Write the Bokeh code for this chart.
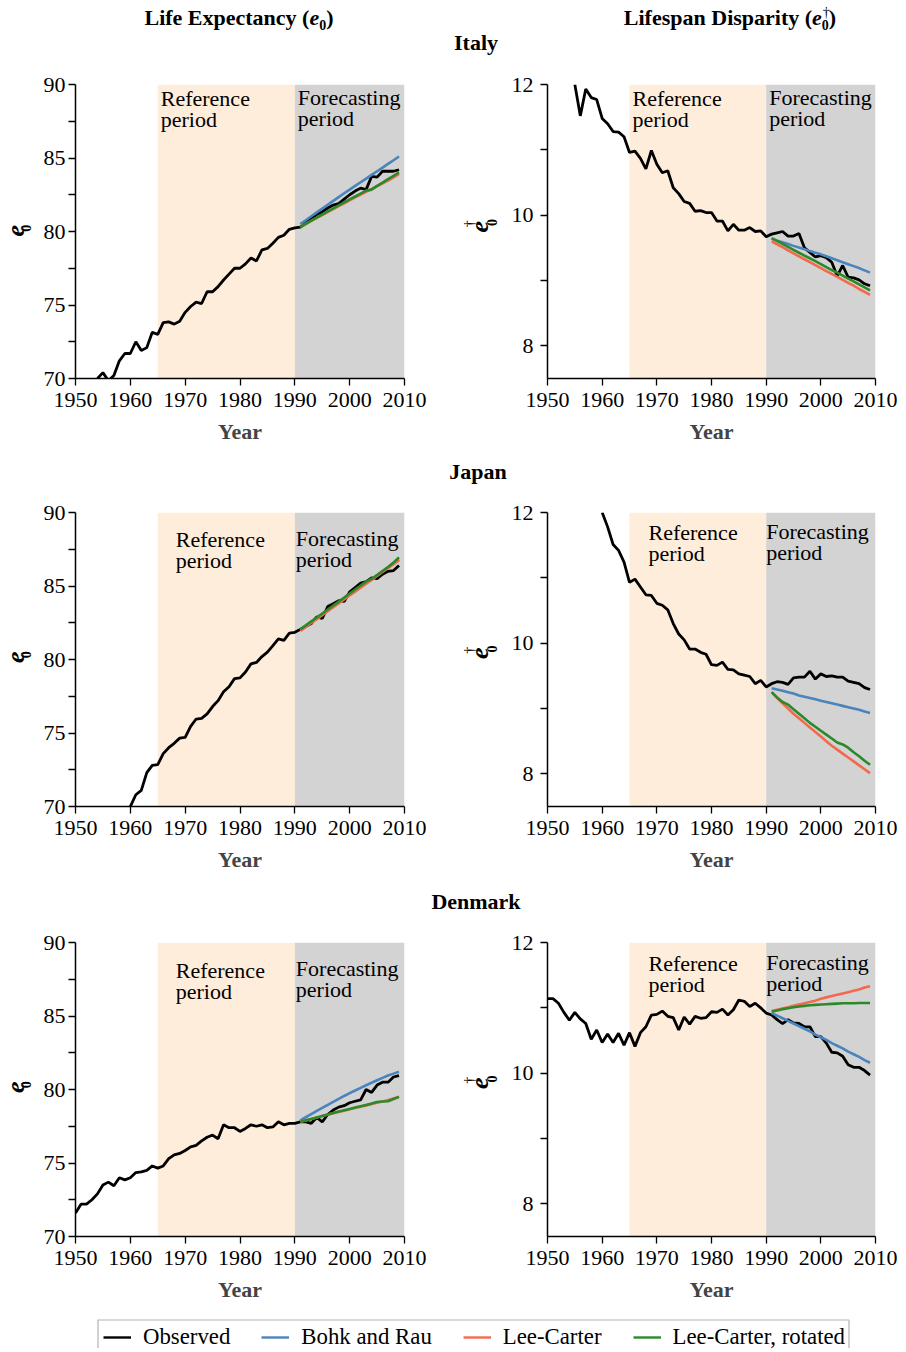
import math
from bokeh.plotting import figure
from bokeh.models import Range1d, FixedTicker, Label, BoxAnnotation, Div, Legend, LegendItem
from bokeh.layouts import column, row
from bokeh.embed import file_html
from bokeh.resources import INLINE

NAN = float("nan")
FONT = "Liberation Serif"

# ---------------- data ----------------
years = list(range(1950, 2010))
fc_years = list(range(1991, 2010))
reference_period = [1965, 1990]
forecast_period = [1990, 2010]
x_ticks = [1950, 1960, 1970, 1980, 1990, 2000, 2010]
e0_ticks = [70, 75, 80, 85, 90]
e0_minor = [72.5, 77.5, 82.5, 87.5]
ed_ticks = [8, 10, 12]
ed_minor = [9, 11]

italy_e0_obs = [NAN, NAN, NAN, NAN, 70.0, 70.4, 69.85, 70.2, 71.2, 71.7,
                71.7, 72.5, 71.9, 72.1, 73.15, 73.0, 73.8, 73.85, 73.7, 73.9,
                74.5, 74.9, 75.2, 75.1, 75.9, 75.9, 76.25, 76.7, 77.1, 77.5,
                77.5, 77.8, 78.2, 78.0, 78.75, 78.85, 79.2, 79.6, 79.75, 80.15,
                80.25, 80.3, 80.6, 80.9, 81.15, 81.35, 81.6, 81.8, 81.9, 82.2,
                82.5, 82.75, 82.95, 82.85, 83.75, 83.7, 84.1, 84.1, 84.1, 84.2]
italy_e0_bohk = [80.50, 80.77, 81.04, 81.30, 81.56, 81.82, 82.08, 82.34, 82.60, 82.85,
                 83.10, 83.35, 83.60, 83.85, 84.10, 84.35, 84.60, 84.85, 85.10]
italy_e0_lc = [80.30, 80.51, 80.72, 80.92, 81.12, 81.32, 81.52, 81.72, 81.92, 82.12,
               82.32, 82.51, 82.70, 82.89, 83.08, 83.27, 83.46, 83.68, 83.90]
italy_e0_lcr = [80.30, 80.52, 80.74, 80.95, 81.16, 81.37, 81.58, 81.78, 81.98, 82.18,
                82.38, 82.58, 82.78, 82.85, 83.10, 83.33, 83.56, 83.79, 84.02]

italy_ed_obs = [NAN, NAN, NAN, NAN, NAN, 12.0, 11.52, 11.93, 11.80, 11.77,
                11.48, 11.40, 11.28, 11.27, 11.20, 10.96, 10.98, 10.87, 10.71, 10.99,
                10.78, 10.65, 10.68, 10.42, 10.33, 10.21, 10.18, 10.06, 10.07, 10.04,
                10.04, 9.91, 9.91, 9.76, 9.86, 9.77, 9.77, 9.81, 9.75, 9.76,
                9.67, 9.71, 9.73, 9.75, 9.68, 9.68, 9.72, 9.50, 9.43, 9.36,
                9.38, 9.35, 9.28, 9.07, 9.23, 9.05, 9.04, 9.01, 8.95, 8.92]
italy_ed_bohk = [9.64, 9.61, 9.585, 9.56, 9.53, 9.505, 9.48, 9.45, 9.425, 9.40,
                 9.37, 9.34, 9.31, 9.28, 9.25, 9.22, 9.19, 9.155, 9.12]
italy_ed_lc = [9.60, 9.555, 9.51, 9.46, 9.415, 9.37, 9.325, 9.28, 9.235, 9.19,
               9.145, 9.10, 9.055, 9.01, 8.965, 8.92, 8.87, 8.825, 8.78]
italy_ed_lcr = [9.65, 9.605, 9.56, 9.515, 9.47, 9.425, 9.38, 9.34, 9.295, 9.25,
                9.205, 9.16, 9.12, 9.075, 9.03, 8.985, 8.94, 8.895, 8.85]

japan_e0_obs = [NAN, NAN, NAN, NAN, NAN, NAN, NAN, NAN, NAN, NAN,
                70.0, 70.8, 71.1, 72.3, 72.8, 72.85, 73.6, 74.0, 74.3, 74.65,
                74.7, 75.45, 75.95, 76.0, 76.3, 76.8, 77.2, 77.8, 78.15, 78.7,
                78.75, 79.15, 79.7, 79.8, 80.2, 80.5, 80.95, 81.4, 81.3, 81.8,
                81.85, 82.05, 82.25, 82.45, 82.9, 82.8, 83.6, 83.8, 84.0, 83.95,
                84.6, 84.9, 85.2, 85.3, 85.55, 85.5, 85.8, 86.0, 86.05, 86.4]
japan_e0_bohk = [82.00, 82.27, 82.53, 82.80, 83.07, 83.33, 83.60, 83.87, 84.13, 84.40,
                 84.67, 84.93, 85.20, 85.47, 85.73, 86.00, 86.27, 86.53, 86.80]
japan_e0_lc = [81.95, 82.22, 82.48, 82.75, 83.02, 83.28, 83.55, 83.82, 84.08, 84.35,
               84.62, 84.88, 85.15, 85.42, 85.68, 85.95, 86.22, 86.48, 86.75]
japan_e0_lcr = [82.05, 82.32, 82.59, 82.86, 83.13, 83.40, 83.67, 83.94, 84.21, 84.49,
                84.76, 85.03, 85.30, 85.48, 85.75, 86.02, 86.29, 86.60, 86.95]

japan_ed_obs = [NAN, NAN, NAN, NAN, NAN, NAN, NAN, NAN, NAN, NAN,
                12.0, 11.78, 11.51, 11.42, 11.24, 10.93, 10.98, 10.86, 10.74, 10.73,
                10.61, 10.58, 10.51, 10.30, 10.14, 10.05, 9.91, 9.91, 9.86, 9.83,
                9.67, 9.66, 9.71, 9.60, 9.59, 9.53, 9.51, 9.49, 9.38, 9.43,
                9.33, 9.38, 9.41, 9.40, 9.37, 9.47, 9.48, 9.48, 9.57, 9.45,
                9.53, 9.49, 9.50, 9.48, 9.48, 9.42, 9.40, 9.38, 9.32, 9.29]
japan_ed_bohk = [9.31, 9.29, 9.27, 9.25, 9.23, 9.20, 9.18, 9.16, 9.14, 9.12,
                 9.10, 9.08, 9.06, 9.04, 9.02, 9.00, 8.98, 8.955, 8.93]
japan_ed_lc = [9.25, 9.16, 9.08, 9.00, 8.92, 8.85, 8.78, 8.71, 8.64, 8.57,
               8.50, 8.43, 8.37, 8.31, 8.25, 8.19, 8.13, 8.07, 8.01]
japan_ed_lcr = [9.25, 9.17, 9.10, 9.06, 8.99, 8.92, 8.85, 8.78, 8.72, 8.66,
                8.60, 8.54, 8.48, 8.45, 8.40, 8.33, 8.27, 8.20, 8.14]

denmark_e0_obs = [71.6, 72.2, 72.2, 72.5, 72.9, 73.5, 73.7, 73.45, 74.0, 73.85,
                  74.0, 74.35, 74.4, 74.5, 74.8, 74.65, 74.8, 75.3, 75.55, 75.65,
                  75.85, 76.1, 76.2, 76.5, 76.75, 76.9, 76.65, 77.6, 77.4, 77.4,
                  77.15, 77.35, 77.6, 77.5, 77.6, 77.4, 77.45, 77.8, 77.6, 77.7,
                  77.7, 77.8, 77.8, 77.7, 78.1, 77.8, 78.3, 78.6, 78.8, 78.9,
                  79.1, 79.2, 79.3, 80.0, 79.8, 80.3, 80.5, 80.5, 80.85, 80.95]
denmark_e0_bohk = [77.90, 78.12, 78.33, 78.54, 78.75, 78.96, 79.16, 79.36, 79.56, 79.75,
                   79.93, 80.11, 80.29, 80.46, 80.63, 80.79, 80.95, 81.08, 81.20]
denmark_e0_lc = [77.80, 77.90, 78.00, 78.10, 78.20, 78.29, 78.38, 78.47, 78.56, 78.65,
                 78.74, 78.83, 78.92, 79.01, 79.10, 79.19, 79.28, 79.39, 79.50]
denmark_e0_lcr = [77.80, 77.90, 78.00, 78.10, 78.20, 78.30, 78.40, 78.50, 78.59, 78.68,
                  78.77, 78.86, 78.95, 79.04, 79.15, 79.18, 79.20, 79.35, 79.50]

denmark_ed_obs = [11.14, 11.14, 11.07, 10.93, 10.81, 10.93, 10.83, 10.76, 10.52, 10.66,
                  10.47, 10.60, 10.47, 10.61, 10.43, 10.62, 10.41, 10.62, 10.71, 10.89,
                  10.90, 10.95, 10.87, 10.85, 10.66, 10.86, 10.75, 10.87, 10.84, 10.85,
                  10.94, 10.93, 10.98, 10.89, 10.97, 11.12, 11.10, 11.02, 11.07, 11.00,
                  10.92, 10.89, 10.82, 10.76, 10.82, 10.77, 10.76, 10.71, 10.71, 10.56,
                  10.56, 10.46, 10.32, 10.31, 10.26, 10.13, 10.09, 10.09, 10.04, 9.97]
denmark_ed_bohk = [10.92, 10.88, 10.84, 10.80, 10.76, 10.72, 10.68, 10.64, 10.59, 10.55,
                   10.51, 10.46, 10.42, 10.38, 10.33, 10.29, 10.25, 10.20, 10.16]
denmark_ed_lc = [10.95, 10.97, 10.99, 11.01, 11.03, 11.05, 11.07, 11.09, 11.11, 11.14,
                 11.16, 11.18, 11.20, 11.22, 11.24, 11.26, 11.28, 11.31, 11.33]
denmark_ed_lcr = [10.94, 10.96, 10.98, 10.995, 11.01, 11.02, 11.03, 11.04, 11.045, 11.05,
                  11.055, 11.06, 11.065, 11.07, 11.07, 11.07, 11.075, 11.075, 11.075]

series_labels = ["Observed", "Bohk and Rau", "Lee-Carter", "Lee-Carter, rotated"]
series_colors = ["black", "#4A84BC", "#F4694C", "#2A8A2A"]

REF_FILL = "#FEEDDA"
FC_FILL = "#D3D3D3"
ROW_H = 394
TOTAL_W = 898
LEG_H = 36


def make_panel(kind, obs, bohk, lc, lcr, top, bottom, ref_off, fc_off):
    left = kind == "e0"
    if left:
        yr = Range1d(70, 90)
        w, mb_left, mb_right = 415, 37, 49
    else:
        yr = Range1d(7.5, 12)
        w, mb_left, mb_right = 390, 39, 23
    p = figure(width=w, height=ROW_H, x_range=Range1d(1950, 2010), y_range=yr,
               output_backend="svg", toolbar_location=None,
               min_border_left=mb_left, min_border_right=mb_right,
               min_border_top=top, min_border_bottom=bottom)
    p.outline_line_color = None
    p.grid.visible = False
    p.background_fill_color = "white"
    p.border_fill_color = "white"

    p.add_layout(BoxAnnotation(left=reference_period[0], right=reference_period[1],
                               fill_color=REF_FILL, fill_alpha=1, line_color=None,
                               level="underlay"))
    p.add_layout(BoxAnnotation(left=forecast_period[0], right=forecast_period[1],
                               fill_color=FC_FILL, fill_alpha=1, line_color=None,
                               level="underlay"))

    p.line(years, obs, line_color=series_colors[0], line_width=2.8)
    p.line(fc_years, bohk, line_color=series_colors[1], line_width=2.6)
    p.line(fc_years, lc, line_color=series_colors[2], line_width=2.6)
    p.line(fc_years, lcr, line_color=series_colors[3], line_width=2.6)

    for ax in p.axis:
        ax.axis_line_width = 1.5
        ax.axis_line_color = "black"
        ax.major_tick_line_width = 1.3
        ax.major_tick_line_color = "black"
        ax.minor_tick_line_width = 1.3
        ax.minor_tick_line_color = "black"
        ax.major_tick_in = 0
        ax.major_tick_out = 7
        ax.minor_tick_in = 0
        ax.minor_tick_out = 7
        ax.major_label_text_font = FONT
        ax.major_label_text_font_size = "22px"
        ax.major_label_text_color = "black"
    p.xaxis.ticker = FixedTicker(ticks=x_ticks, minor_ticks=[])
    p.xaxis.major_label_standoff = 7
    p.xaxis.axis_label = "Year"
    p.xaxis.axis_label_text_font = FONT
    p.xaxis.axis_label_text_font_style = "bold"
    p.xaxis.axis_label_text_font_size = "22px"
    p.xaxis.axis_label_standoff = 9
    if left:
        p.yaxis.ticker = FixedTicker(ticks=e0_ticks, minor_ticks=e0_minor)
        p.yaxis.major_label_standoff = 3
    else:
        p.yaxis.ticker = FixedTicker(ticks=ed_ticks, minor_ticks=ed_minor)
        p.yaxis.major_label_standoff = 7

    ytop = yr.end
    for (xo, yo), words, x0 in ((ref_off, ("Reference", "period"), reference_period[0]),
                                (fc_off, ("Forecasting", "period"), forecast_period[0])):
        for i, wd in enumerate(words):
            p.add_layout(Label(x=x0, y=ytop, x_offset=xo, y_offset=yo - 21 * i, text=wd,
                               text_font=FONT, text_font_size="22px", text_color="black",
                               text_align="left", text_baseline="middle"))
    return p


def ylabel_fig(width, frame_top, dagger):
    """Narrow strip holding the rotated y-axis title (e0 or e0 with dagger)."""
    f = figure(width=width, height=ROW_H, x_range=Range1d(0, width), y_range=Range1d(0, ROW_H),
               output_backend="svg", toolbar_location=None, min_border=0,
               x_axis_type=None, y_axis_type=None)
    f.outline_line_color = None
    f.grid.visible = False
    fc = ROW_H - (frame_top + 147)  # vertical centre of neighbouring frame, from bottom
    rot = math.pi / 2
    if not dagger:
        parts = [("e", 14.5, -23, "bold italic", "26px"), ("0", 25, -19.7, "bold", "14px")]
    else:
        parts = [("e", 25.5, -17.5, "bold italic", "26px"), ("0", 38, -12, "bold", "14px"),
                 ("\u2020", 16, -13.5, "normal", "14px")]
    for txt, x, dy, style, size in parts:
        f.add_layout(Label(x=x, y=fc + dy, text=txt, angle=rot, text_font=FONT,
                           text_font_style=style, text_font_size=size, text_color="black",
                           text_align="center", text_baseline="middle"))
    return f


def panel_row(e0_data, ed_data, top, ref_l, fc_l, ref_r, fc_r):
    bottom = ROW_H - top - 294
    fl = make_panel("e0", *e0_data, top, bottom, ref_l, fc_l)
    fr = make_panel("ed", *ed_data, top, bottom, ref_r, fc_r)
    return row(ylabel_fig(38, top, False), fl, ylabel_fig(55, top, True), fr)


it_row = panel_row((italy_e0_obs, italy_e0_bohk, italy_e0_lc, italy_e0_lcr),
                   (italy_ed_obs, italy_ed_bohk, italy_ed_lc, italy_ed_lcr),
                   26, (3, -14), (3, -13), (3, -14), (3, -13))
jp_row = panel_row((japan_e0_obs, japan_e0_bohk, japan_e0_lc, japan_e0_lcr),
                   (japan_ed_obs, japan_ed_bohk, japan_ed_lc, japan_ed_lcr),
                   24, (18, -27), (1, -26), (19, -20), (0, -19))
dk_row = panel_row((denmark_e0_obs, denmark_e0_bohk, denmark_e0_lc, denmark_e0_lcr),
                   (denmark_ed_obs, denmark_ed_bohk, denmark_ed_lc, denmark_ed_lcr),
                   24, (18, -28), (1, -26), (19, -21), (0, -20))

BASE = "font-family:'Liberation Serif',serif;font-weight:bold;font-size:22px;line-height:22px;color:#000;"
header_html = (
    f'<div style="position:relative;width:{TOTAL_W}px;height:50px;{BASE}">'
    '<div style="position:absolute;left:8px;top:-1px;width:462px;text-align:center;white-space:nowrap;">'
    'Life Expectancy (<i>e</i><span style="font-size:14px;position:relative;top:5px;">0</span>)</div>'
    '<div style="position:absolute;left:562px;top:-1px;width:336px;text-align:center;white-space:nowrap;">'
    'Lifespan Disparity (<i>e</i><span style="font-size:14px;position:relative;display:inline-block;top:5px;">0'
    '<span style="position:absolute;left:1px;top:-13px;font-weight:normal;">\u2020</span></span>)</div>'
    '<div style="position:absolute;left:376px;top:24px;width:200px;text-align:center;">Italy</div>'
    '</div>'
)
header = Div(text=header_html, width=TOTAL_W, height=50, margin=0)


def country_div(name, center):
    html = (f'<div style="position:relative;width:{TOTAL_W}px;height:36px;{BASE}">'
            f'<div style="position:absolute;left:{center - 100}px;top:9px;width:200px;text-align:center;">{name}</div>'
            '</div>')
    return Div(text=html, width=TOTAL_W, height=36, margin=0)


jp_div = country_div("Japan", 478)
dk_div = country_div("Denmark", 476)

# legend strip: data units of this strip equal pixels (y measured from the bottom)
lg = figure(width=TOTAL_W, height=LEG_H, x_range=Range1d(0, TOTAL_W), y_range=Range1d(0, LEG_H),
            output_backend="svg", toolbar_location=None, min_border=0,
            x_axis_type=None, y_axis_type=None)
lg.outline_line_color = None
lg.grid.visible = False
lg.add_layout(BoxAnnotation(left=97.5, right=848.5, top=LEG_H - 7.5, bottom=-20,
                            fill_alpha=0, line_color="black", line_width=1.2))
items = []
for lab, col in zip(series_labels, series_colors):
    r = lg.line([NAN], [NAN], line_color=col, line_width=2.4)
    items.append(LegendItem(label=lab, renderers=[r]))
legend = Legend(items=items, orientation="horizontal", location=(103, -2),
                border_line_color=None, background_fill_alpha=0,
                padding=2, spacing=31, glyph_width=28, glyph_height=20, label_standoff=12,
                label_height=20, label_text_font=FONT, label_text_font_size="22.8px",
                label_text_color="black", margin=0)
lg.add_layout(legend)

layout = column(header, it_row, jp_div, jp_row, dk_div, dk_row, lg, margin=(8, 0, 0, 0))

open("out.html", "w").write(file_html(layout, INLINE, title="Life expectancy and lifespan disparity"))
